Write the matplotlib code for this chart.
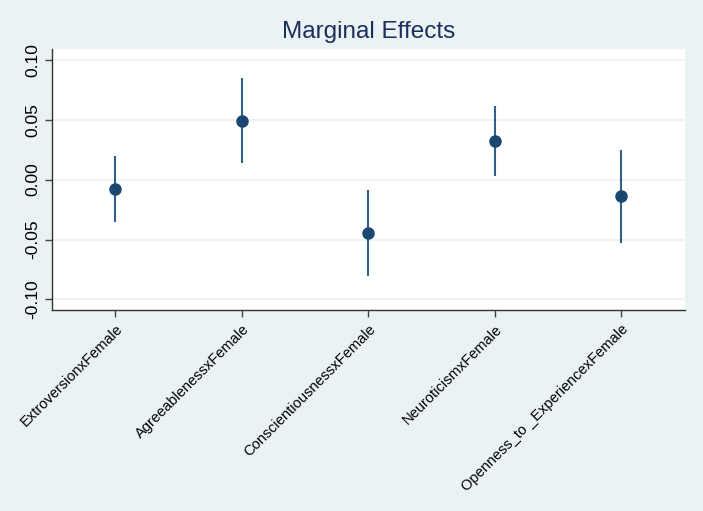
import numpy as np
from matplotlib import pyplot as plt

plt.rcParams['font.family'] = ['Liberation Sans', 'DejaVu Sans']

labels = ["ExtroversionxFemale", "AgreeablenessxFemale", "ConscientiousnessxFemale",
          "NeuroticismxFemale", "Openness_to _ExperiencexFemale"]
effect = [-0.0078, 0.0492, -0.0444, 0.0319, -0.0139]
ci_low = [-0.0353, 0.0139, -0.0806, 0.0028, -0.0528]
ci_high = [0.0194, 0.0847, -0.0083, 0.0611, 0.0250]

BG = '#EAF2F3'
NAVY = '#1A476F'

fig = plt.figure(figsize=(7.03, 5.11), dpi=100, facecolor=BG)
ax = fig.add_axes([0.074, 0.393, 0.9, 0.511])
ax.set_facecolor('white')

x = np.arange(1, len(labels) + 1)
ax.vlines(x, ci_low, ci_high, color='#2F5F8A', lw=1.5, zorder=3)
ax.plot(x, effect, 'o', color=NAVY, ms=8, zorder=4)

ax.set_xlim(0.5, 5.5)
ax.set_ylim(-0.109, 0.109)
ax.set_yticks([-0.10, -0.05, 0.00, 0.05, 0.10])
ax.set_yticklabels(["-0.10", "-0.05", "0.00", "0.05", "0.10"], rotation=90, va='center', fontsize=12.5)
ax.set_xticks(x)
ax.set_xticklabels(labels, rotation=45, ha='right', rotation_mode='anchor', fontsize=10.5)
ax.yaxis.grid(True, color=BG, lw=1.2)
ax.set_axisbelow(True)

for s in ['top', 'right']:
    ax.spines[s].set_visible(False)
for s in ['left', 'bottom']:
    ax.spines[s].set_color('#333333')
    ax.spines[s].set_linewidth(1.0)
ax.tick_params(colors='#444444', length=5, width=1)
ax.tick_params(axis='both', labelcolor='black')

fig.text(0.524, 0.937, "Marginal Effects", ha='center', va='center', fontsize=17.5, color='#1C2F5C')

fig.savefig("out.png", dpi=100, facecolor=BG)
